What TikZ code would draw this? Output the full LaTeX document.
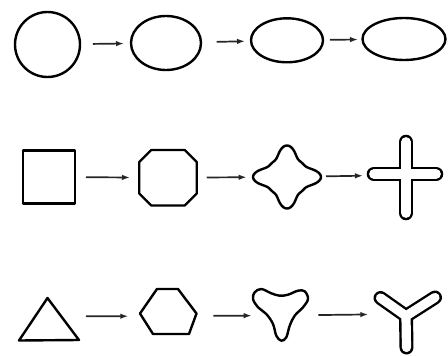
\documentclass[tikz,border=0pt]{standalone}
\usetikzlibrary{shapes.geometric,arrows.meta}
\tikzset{
  shp/.style={draw=black, line width=2.4pt, line join=round},
  anch/.style={inner sep=0pt, outer sep=0pt, draw=none, minimum height=4pt},
  nd/.style={shp, inner sep=0pt, outer sep=0pt},
  arr/.style={line width=1.7pt, draw=black!85, -{Latex[length=8pt,width=5.5pt]}},
  fatout/.style={black, line width=14.6pt, line cap=round, line join=round},
  fatin/.style={white, line width=9.8pt, line cap=round, line join=round},
}
\begin{document}
\begin{tikzpicture}[x=1pt, y=-1pt,
  declare function={sqc(\t)=cos(2*\t)*cos(2*\t); srad(\t)=22+13*sqc(\t)*sqc(\t);}]
\useasboundingbox[fill=white] (0,0) rectangle (448,356);

% ---------- Row 1 ----------
\node[nd, circle, minimum size=65pt] (c1) at (47.5,44.5) {};
\node[nd, ellipse, minimum width=70pt, minimum height=54pt] (e2) at (166,43) {};
\node[nd, ellipse, minimum width=72pt, minimum height=44pt] (e3) at (287,40.3) {};
\node[nd, ellipse, minimum width=83pt, minimum height=42pt] (e4) at (404,39) {};
\draw[arr, shorten <=13pt, shorten >=7pt] (c1) -- (e2);
\draw[arr, shorten <=15.7pt, shorten >=6pt] (e2) -- (e3);
\draw[arr, shorten <=7pt, shorten >=4.5pt] (e3) -- (e4);

% ---------- Row 2 ----------
\node[nd, rectangle, minimum width=52pt, minimum height=53pt] (s1) at (49,177) {};
\node[anch, minimum width=57.5pt] (o2) at (168,177.7) {};
\draw[shp] (151.25,150) -- (184.75,150) -- (196.75,162) -- (196.75,193.5)
  -- (184.75,205.5) -- (151.25,205.5) -- (139.25,193.5) -- (139.25,162) -- cycle;
\node[anch, minimum width=68pt] (st3) at (287,177) {};
\draw[shp] plot[domain=0:357.5, samples=144, smooth cycle]
  ({287+0.97*srad(\x)*cos(\x)}, {177+0.9*srad(\x)*sin(\x)});
\node[anch, minimum width=74pt] (x4) at (405,175) {};
\draw[fatout] (374,174) -- (436,174) (406,142) -- (406,213);
\draw[fatin] (374,174) -- (436,174) (406,142) -- (406,213);
\draw[arr, shorten <=11pt, shorten >=9.25pt] (s1) -- (o2);
\draw[arr, shorten <=10pt, shorten >=6.3pt] (o2) -- (st3);
\draw[arr, shorten <=5pt, shorten >=5pt] (st3) -- (x4);

% ---------- Row 3 ----------
\node[anch, minimum width=60pt] (t1) at (49,316.5) {};
\draw[shp] (47.5,298) -- (79,340) -- (19,340.5) -- cycle;
\node[anch, minimum width=56.5pt] (h2) at (168.25,316) {};
\draw[shp] (157,289) -- (178,289) -- (196.5,313.5) -- (189,334) -- (153,334) -- (140,313.5) -- cycle;
\node[anch, minimum width=54pt] (b3) at (280.5,315.5) {};
\draw[shp] plot[smooth cycle, tension=0.6] coordinates {
  (253,299) (258,307.3) (266.3,314) (273,324) (276.3,335.7) (281.3,340.7)
  (286.3,337.3) (289.7,325.7) (294.7,315.7) (303,307.3) (308,299)
  (304.7,291.3) (298,290.7) (288,294.7) (279.7,295.7) (271.3,293.3)
  (261.3,289) (254.7,292.3)};
\node[anch, minimum width=64pt] (y4) at (407,314) {};
\draw[fatout, line width=14pt] (380.5,298) -- (406,316) -- (435,297.5) (406,316) -- (406.5,347.5);
\draw[fatin, line width=9.2pt] (380.5,298) -- (406,316) -- (435,297.5) (406,316) -- (406.5,347.5);
\draw[arr, shorten <=7pt, shorten >=11.7pt] (t1) -- (h2);
\draw[arr, shorten <=16.8pt, shorten >=1.8pt] (h2) -- (b3);
\draw[arr, shorten <=10.8pt, shorten >=6.7pt] (b3) -- (y4);
\end{tikzpicture}
\end{document}
